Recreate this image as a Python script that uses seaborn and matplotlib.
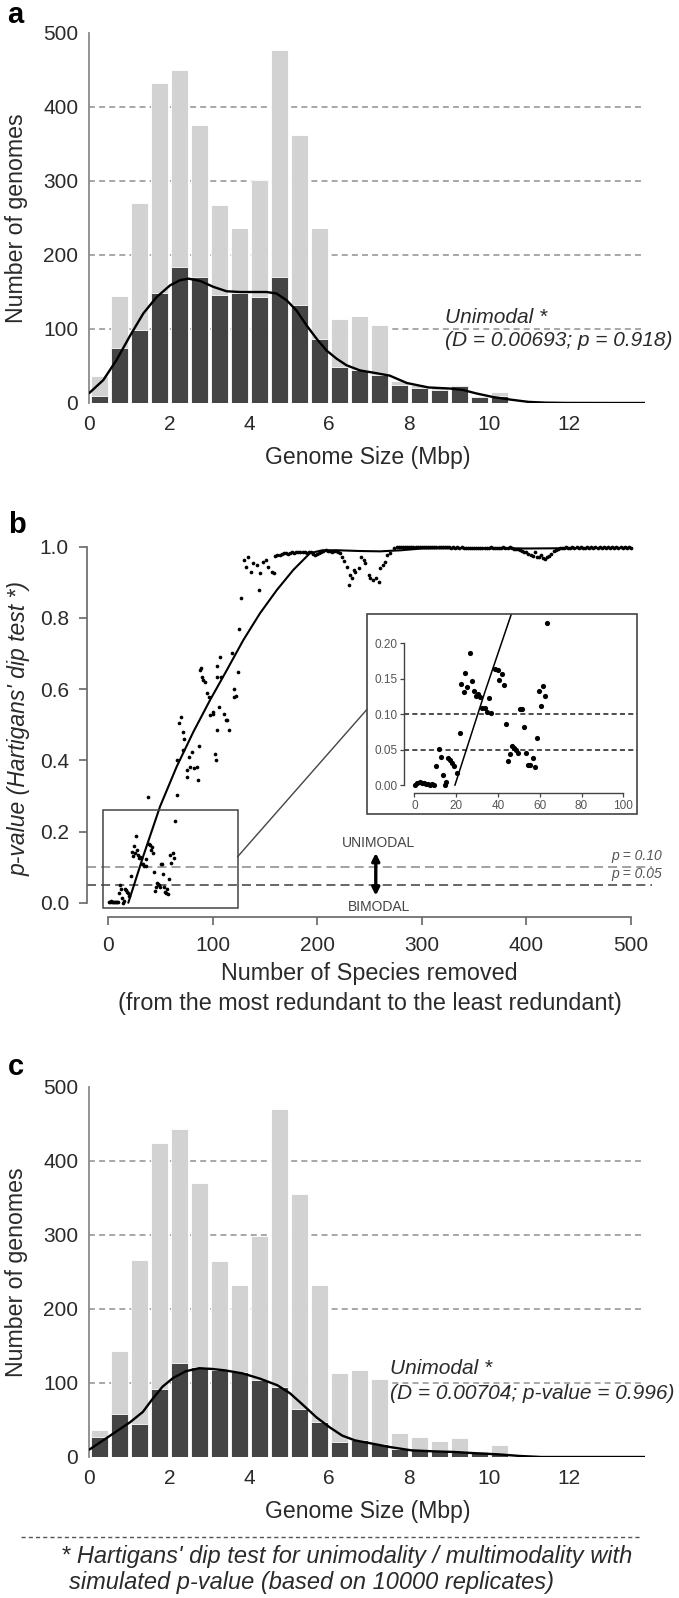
import numpy as np
import matplotlib
matplotlib.use("Agg")
import matplotlib.pyplot as plt
import seaborn as sns
from matplotlib.patches import Rectangle, ConnectionPatch
from matplotlib.lines import Line2D

# ---------------- data ----------------
# genome size bins (Mbp), 0.5 Mbp wide
bin_centers = [0.25, 0.75, 1.25, 1.75, 2.25, 2.75, 3.25, 3.75, 4.25, 4.75, 5.25,
               5.75, 6.25, 6.75, 7.25, 7.75, 8.25, 8.75, 9.25, 9.75, 10.25]
bin_edges = [0.0, 0.5, 1.0, 1.5, 2.0, 2.5, 3.0, 3.5, 4.0, 4.5, 5.0, 5.5, 6.0,
             6.5, 7.0, 7.5, 8.0, 8.5, 9.0, 9.5, 10.0, 10.5]

# panel a
a_all = [36, 144, 270, 432, 450, 376, 268, 236, 302, 477, 362, 236, 114, 118,
         106, 30, 25, 20, 24, 10, 15]
a_sub = [10, 74, 99, 148, 184, 170, 146, 148, 143, 170, 132, 87, 48, 45, 38,
         24, 20, 17, 23, 8, 9]
a_kde_x = [0, 0.35, 0.68, 1.02, 1.35, 1.68, 2.02, 2.27, 2.48, 2.77, 3.1, 3.43,
           3.77, 4.1, 4.43, 4.68, 4.93, 5.18, 5.43, 5.68, 5.93, 6.18, 6.43,
           6.77, 7.1, 7.51, 7.94, 8.48, 9.03, 9.35, 9.67, 10.1, 10.54, 10.98,
           11.4, 11.9, 13.0, 13.9]
a_kde_y = [13.5, 31, 58, 91, 121, 143, 159, 166, 168, 165, 157, 151, 150, 150,
           150, 148, 139, 125, 105, 87, 71, 60, 51, 44, 41, 37, 27, 21, 19.5,
           17.5, 13, 8, 4.5, 1.5, 0.5, 0.1, 0, 0]

# panel c
c_all = [37, 143, 266, 425, 443, 370, 265, 232, 298, 470, 356, 233, 113, 117,
         105, 32, 27, 21, 26, 8, 16]
c_sub = [27, 58, 44, 92, 127, 121, 118, 115, 104, 94, 65, 47, 20, 23, 18, 11,
         9, 9, 7, 5, 4]
c_kde_x = [0, 0.47, 1.02, 1.34, 1.56, 1.83, 2.1, 2.42, 2.75, 3.07, 3.4, 3.83,
           4.26, 4.7, 5.02, 5.35, 5.67, 6.0, 6.32, 6.64, 7.08, 7.51, 8.05,
           8.59, 9.13, 9.68, 10.22, 10.76, 11.3, 12.5, 13.9]
c_kde_y = [10, 27, 47, 61, 77, 95, 107, 116, 120, 119, 117, 113, 106, 97, 86,
           70, 54, 40.5, 29, 22.5, 18, 13.5, 9, 7.7, 6.8, 5, 3.6, 1.4, 0, 0, 0]

# panel b: species removed vs dip-test p-value (rising part, 0-160)
b_x_rise = [0.5, 1.5, 2.5, 3.5, 4.5, 5.5, 6.5, 7.5, 8.5, 9.5, 10.4, 11.8, 12.8,
            13.6, 14.7, 15.3, 16.3, 17.2, 18.2, 19.1, 20.3, 21.7, 22.5, 23.6,
            24.4, 25.4, 26.6, 27.6, 28.5, 29.5, 30.6, 31.6, 32.5, 33.7, 34.6,
            35.9, 36.7, 38.5, 38.8, 40.0, 40.7, 41.9, 42.7, 43.9, 44.7, 45.6,
            46.6, 47.5, 48.5, 49.4, 50.6, 51.7, 52.6, 53.6, 54.5, 55.5, 56.6,
            57.7, 58.7, 59.6, 60.6, 61.7, 62.7, 63.6,
            65.6, 66.3, 68.2, 70.1, 71.7, 72.0, 72.9, 75.2, 75.8, 77.8, 78.4,
            80.0, 82.2, 84.8, 86.4, 87.3, 88.0, 88.6, 89.5, 91.2, 92.7, 94.3,
            96.6, 97.6, 100.0, 100.8, 102.3, 103.3, 104.0, 104.5, 104.5, 106.4,
            107.0, 107.7, 110.9, 112.8, 113.6, 116.0, 118.2, 120.0, 120.8,
            122.4, 123.8, 125.2, 127.4, 130.0, 132.0, 134.2, 136.4, 139.0,
            142.0, 144.3, 145.0, 147.9, 150.7, 153.3, 156.5, 158.7]
b_y_rise = [0.001, 0.003, 0.004, 0.003, 0.003, 0.002, 0.002, 0.001, 0.002,
            0.001, 0.027, 0.051, 0.040, 0.014, 0.000, 0.005, 0.039, 0.036,
            0.031, 0.027, 0.018, 0.074, 0.143, 0.132, 0.159, 0.139, 0.187,
            0.147, 0.133, 0.126, 0.129, 0.125, 0.109, 0.109, 0.103, 0.123,
            0.102, 0.298, 0.164, 0.162, 0.149, 0.157, 0.141, 0.087, 0.034,
            0.044, 0.055, 0.053, 0.050, 0.045, 0.108, 0.108, 0.082, 0.045,
            0.029, 0.028, 0.038, 0.026, 0.067, 0.133, 0.112, 0.140, 0.126,
            0.229,
            0.401, 0.303, 0.504, 0.523, 0.430, 0.480, 0.459, 0.354, 0.373,
            0.410, 0.382, 0.424, 0.379, 0.380, 0.345, 0.440, 0.654, 0.659,
            0.635, 0.625, 0.621, 0.589, 0.578, 0.527, 0.531, 0.537, 0.419,
            0.400, 0.485, 0.665, 0.635, 0.550, 0.690, 0.635, 0.531, 0.512,
            0.513, 0.484, 0.701, 0.579, 0.600, 0.580, 0.647, 0.770, 0.857,
            0.963, 0.944, 0.972, 0.928, 0.953, 0.948, 0.878, 0.925, 0.958,
            0.963, 0.944, 0.930, 0.925]
# plateau part (160-500)
b_x_top = [160, 162, 164, 166, 168, 170, 172, 174, 176, 178, 180, 182, 184,
           186, 188, 190, 192, 194, 196, 198, 200, 202, 204, 206, 208, 210,
           212, 214, 216, 218, 220, 222,
           224.0, 225.5, 228.6, 230.2, 231.8, 233.4, 235.0, 236.6, 239.8,
           242.3, 244.5, 246.1, 249.3, 250.9, 253.1, 256.3, 258.9, 260.4,
           262.7, 264.6, 266.8, 270.0, 273.2,
           276, 278, 280, 282, 284, 286, 288, 290, 292, 294, 296, 298, 300,
           302, 304, 306, 308, 310, 312, 314, 316, 318, 320, 322, 324, 326,
           328, 330, 332, 334, 336, 338, 340, 342, 344, 346, 348, 350, 352,
           354, 356, 358, 360, 362, 364, 366, 368, 370, 372, 374, 376, 378,
           380, 382, 384, 386, 388, 390, 392, 394, 396, 398, 400, 402, 404,
           406, 408, 410, 412, 414, 416, 418, 420, 422, 424, 426, 428, 430,
           432, 434, 436, 438, 440, 442, 444, 446, 448, 450, 452, 454, 456,
           458, 460, 462, 464, 466, 468, 470, 472, 474, 476, 478, 480, 482,
           484, 486, 488, 490, 492, 494, 496, 498, 500]
b_y_top = [0.975, 0.977, 0.978, 0.980, 0.981, 0.982, 0.980, 0.983, 0.984,
           0.983, 0.985, 0.984, 0.986, 0.985, 0.984, 0.983, 0.986, 0.984,
           0.979, 0.976, 0.980, 0.983, 0.985, 0.987, 0.990, 0.989, 0.988,
           0.986, 0.988, 0.987, 0.985, 0.982,
           0.972, 0.960, 0.944, 0.892, 0.921, 0.911, 0.935, 0.928, 0.939,
           0.972, 0.963, 0.953, 0.921, 0.913, 0.906, 0.911, 0.902, 0.939,
           0.949, 0.958, 0.977, 0.981, 0.996,
           0.998, 0.999, 1.000, 0.999, 1.000, 0.999, 1.000, 0.999, 1.000,
           0.999, 1.000, 0.999, 1.000, 0.999, 0.998, 0.999, 1.000, 0.999,
           0.998, 1.000, 0.999, 0.998, 0.999, 0.998, 0.999, 0.998, 0.997,
           0.998, 0.997, 0.998, 0.997, 0.998, 0.997, 0.996, 0.997, 0.996,
           0.997, 0.996, 0.997, 0.996, 0.997, 0.996, 0.997, 0.996, 0.997,
           0.998, 0.997, 0.996, 0.997, 0.996, 0.997, 0.998, 0.997, 0.996,
           0.998, 0.997, 0.995, 0.994, 0.993, 0.991, 0.988, 0.985, 0.986,
           0.980, 0.976, 0.975, 0.985, 0.972, 0.970, 0.978, 0.968, 0.965,
           0.972, 0.975, 0.980, 0.988, 0.992, 0.994, 0.996, 0.997, 0.996,
           0.998, 0.997, 0.996, 0.998, 0.997, 0.998, 0.997, 0.998, 0.997,
           0.996, 0.998, 0.997, 0.998, 0.997, 0.998, 0.997, 0.998, 0.997,
           0.998, 0.997, 0.998, 0.997, 0.998, 0.997, 0.998, 0.997, 0.998,
           0.997, 0.998, 0.997, 0.998, 0.997]
b_fit_x = [19.4, 33.8, 49.7, 65.6, 81.6, 97.5, 113.5, 129.4, 145.3, 161.3,
           177.2, 193.1, 205, 220, 240, 260, 280, 300, 350, 400, 450, 500]
b_fit_y = [0.0, 0.132, 0.270, 0.382, 0.480, 0.569, 0.653, 0.738, 0.813, 0.878,
           0.935, 0.982, 0.990, 0.990, 0.988, 0.987, 0.990, 0.995, 0.996,
           0.995, 0.996, 0.997]

hist_xticks = [0, 2, 4, 6, 8, 10, 12]
hist_yticks = [0, 100, 200, 300, 400, 500]
b_xticks = [0, 100, 200, 300, 400, 500]
b_yticks = [0.0, 0.2, 0.4, 0.6, 0.8, 1.0]
b_yticklabels = ["0.0", "0.2", "0.4", "0.6", "0.8", "1.0"]
in_xticks = [0, 20, 40, 60, 80, 100]
in_yticks = [0.00, 0.05, 0.10, 0.15, 0.20]
in_yticklabels = ["0.00", "0.05", "0.10", "0.15", "0.20"]

# ---------------- style ----------------
sns.set_theme(style="white")
plt.rcParams['font.family'] = ['Liberation Sans', 'DejaVu Sans']
TXT = '#2a2a2a'

W, H = 679, 1598
fig = plt.figure(figsize=(W / 100, H / 100), dpi=100)


def fx(px):
    return px / W


def fy(py):
    return 1 - py / H


def hist_panel(ax, allv, subv, kx, ky, t1, t2, tx, ty1, ty2):
    for g in [100, 200, 300, 400]:
        ax.axhline(g, color='#a0a0a0', lw=1.3, ls=(0, (3.3, 2.3)), zorder=0)
    sns.histplot(x=bin_centers, weights=allv, bins=bin_edges, color='#d2d2d2',
                 alpha=1, edgecolor='white', linewidth=0.6, shrink=0.86,
                 ax=ax, zorder=1)
    sns.histplot(x=bin_centers, weights=subv, bins=bin_edges, color='#444444',
                 alpha=1, edgecolor='white', linewidth=0.6, shrink=0.86,
                 ax=ax, zorder=2)
    sns.lineplot(x=kx, y=ky, color='black', lw=1.7, ax=ax, zorder=3)
    ax.set_xlim(0, 13.9)
    ax.set_ylim(0, 500)
    ax.set_xticks(hist_xticks)
    ax.set_yticks(hist_yticks)
    ax.tick_params(axis='both', length=0, labelsize=15, labelcolor=TXT)
    ax.tick_params(axis='y', pad=8)
    ax.tick_params(axis='x', pad=9)
    for s in ['top', 'right', 'bottom']:
        ax.spines[s].set_visible(False)
    ax.spines['left'].set_color('#8a8a8a')
    ax.spines['left'].set_linewidth(1.3)
    ax.set_ylabel('Number of genomes', fontsize=16.7, color=TXT)
    ax.set_xlabel('Genome Size (Mbp)', fontsize=16.6, color=TXT)
    ax.yaxis.set_label_coords(-0.11, 0.5)
    ax.xaxis.set_label_coords(0.5, -0.115)
    ax.text(tx, ty1, t1, style='italic', fontsize=15, color=TXT,
            va='center', ha='left')
    ax.text(tx, ty2, t2, style='italic', fontsize=15, color=TXT,
            va='center', ha='left', clip_on=False)


# ---------------- panel a ----------------
axa = fig.add_axes([fx(89.3), fy(403), 556 / W, 370 / H])
hist_panel(axa, a_all, a_sub, a_kde_x, a_kde_y, 'Unimodal *',
           '(D = 0.00693; p = 0.918)', 8.89, 115, 85)
fig.text(fx(7), fy(15), 'a', fontsize=21, weight='bold', va='center',
         ha='left', color='black')

# ---------------- panel c ----------------
axc = fig.add_axes([fx(89.3), fy(1457), 556 / W, 370 / H])
hist_panel(axc, c_all, c_sub, c_kde_x, c_kde_y, 'Unimodal *',
           '(D = 0.00704; p-value = 0.996)', 7.52, 120, 86)
fig.text(fx(8), fy(1067), 'c', fontsize=21, weight='bold', va='center',
         ha='left', color='black')

# ---------------- panel b ----------------
b_x = b_x_rise + b_x_top
b_y = b_y_rise + b_y_top

axb = fig.add_axes([fx(87), fy(917), 565 / W, 377.4 / H])
axb.axhline(0.10, color='#9a9a9a', lw=1.3, ls=(0, (5, 2.8)), zorder=0)
axb.axhline(0.05, color='#5a5a5a', lw=1.3, ls=(0, (5, 2.8)), zorder=0)
sns.scatterplot(x=b_x, y=b_y, s=7, color='black', linewidth=0, ax=axb,
                zorder=3)
sns.lineplot(x=b_fit_x, y=b_fit_y, color='black', lw=1.5, ax=axb, zorder=4)
axb.set_xlim(-20.1, 520.1)
axb.set_ylim(-0.04, 1.02)
axb.set_xticks(b_xticks)
axb.set_yticks(b_yticks)
axb.set_yticklabels(b_yticklabels)
for s in ['top', 'right']:
    axb.spines[s].set_visible(False)
for s in ['left', 'bottom']:
    axb.spines[s].set_color('#666666')
    axb.spines[s].set_linewidth(1.2)
axb.spines['left'].set_bounds(0, 1)
axb.spines['bottom'].set_bounds(0, 500)
axb.tick_params(axis='both', direction='out', length=6, width=1.2,
                color='#666666', labelsize=15, labelcolor=TXT,
                left=True, bottom=True)
axb.tick_params(axis='y', pad=7)
axb.tick_params(axis='x', pad=8)
axb.set_ylabel("p-value (Hartigans' dip test *)", fontsize=16.5,
               style='italic', color=TXT)
axb.yaxis.set_label_coords(-0.1, 0.5)
axb.set_xlabel('Number of Species removed\n(from the most redundant to the least redundant)',
               fontsize=16.8, color=TXT, linespacing=1.35)
axb.xaxis.set_label_coords(0.5, -0.12)

axb.add_patch(Rectangle((-5, -0.015), 128.8, 0.275, fill=False,
                        edgecolor='#444444', lw=1.1, zorder=5))
axb.annotate('', xy=(256, 0.02), xytext=(256, 0.14),
             arrowprops=dict(arrowstyle='<|-|>', color='black', lw=2.4,
                             mutation_scale=11, shrinkA=0, shrinkB=0))
axb.text(259, 0.168, 'UNIMODAL', fontsize=10, color='#444444', ha='center',
         va='center')
axb.text(259, -0.012, 'BIMODAL', fontsize=10, color='#444444', ha='center',
         va='center')
axb.text(529.6, 0.131, 'p = 0.10', fontsize=10, style='italic',
         color='#555555', ha='right', va='center', clip_on=False)
axb.text(529.6, 0.081, 'p = 0.05', fontsize=10, style='italic',
         color='#555555', ha='right', va='center', clip_on=False)
fig.text(fx(8), fy(525), 'b', fontsize=21, weight='bold', va='center',
         ha='left', color='black')

# ---------------- inset ----------------
axin = fig.add_axes([fx(366.7), fy(813.7), 270 / W, 200 / H])
axin.set_facecolor('white')
in_x = [v for v in b_x_rise if v <= 65]
in_y = [b_y_rise[i] for i, v in enumerate(b_x_rise) if v <= 65]
axin.axhline(0.10, xmin=0.139, xmax=1, color='#404040', lw=1.3,
             ls=(0, (2.8, 1.8)), zorder=0)
axin.axhline(0.05, xmin=0.139, xmax=1, color='#404040', lw=1.3,
             ls=(0, (2.8, 1.8)), zorder=0)
sns.scatterplot(x=in_x, y=in_y, s=14, color='black', linewidth=0, ax=axin,
                zorder=3)
sns.lineplot(x=b_fit_x, y=b_fit_y, color='black', lw=1.1, ax=axin, zorder=4)
axin.set_xlim(-22.8, 106.4)
axin.set_ylim(-0.04, 0.242)
axin.set_xticks(in_xticks)
axin.set_yticks(in_yticks)
axin.set_yticklabels(in_yticklabels)
axin.spines['top'].set_visible(False)
axin.spines['right'].set_visible(False)
axin.spines['left'].set_position(('data', -4.8))
axin.spines['bottom'].set_position(('data', -0.0108))
axin.spines['left'].set_bounds(0, 0.2)
axin.spines['bottom'].set_bounds(0, 100)
for s in ['left', 'bottom']:
    axin.spines[s].set_color('#444444')
    axin.spines[s].set_linewidth(1.0)
axin.tick_params(axis='both', direction='out', length=3, width=0.9,
                 color='#444444', labelsize=8.5, labelcolor='#555555', pad=2,
                 left=True, bottom=True)
axin.add_patch(Rectangle((0, 0), 1, 1, transform=axin.transAxes, fill=False,
                         edgecolor='#444444', lw=1.2, clip_on=False, zorder=6))

con = ConnectionPatch(xyA=(123.8, 0.129), coordsA='data', axesA=axb,
                      xyB=(0, 0.52), coordsB='axes fraction', axesB=axin,
                      color='#444444', lw=1.0)
fig.add_artist(con)

# ---------------- footer ----------------
fig.add_artist(Line2D([fx(21), fx(641)], [fy(1537), fy(1537)],
                      transform=fig.transFigure, ls=(0, (3, 2.2)),
                      color='#555555', lw=1.0))
fig.text(fx(61), fy(1556), "* Hartigans' dip test for unimodality / multimodality with",
         style='italic', fontsize=17, color=TXT, va='center', ha='left')
fig.text(fx(69), fy(1583), "simulated p-value (based on 10000 replicates)",
         style='italic', fontsize=17, color=TXT, va='center', ha='left')

fig.savefig('out.png', dpi=100, facecolor='white')
